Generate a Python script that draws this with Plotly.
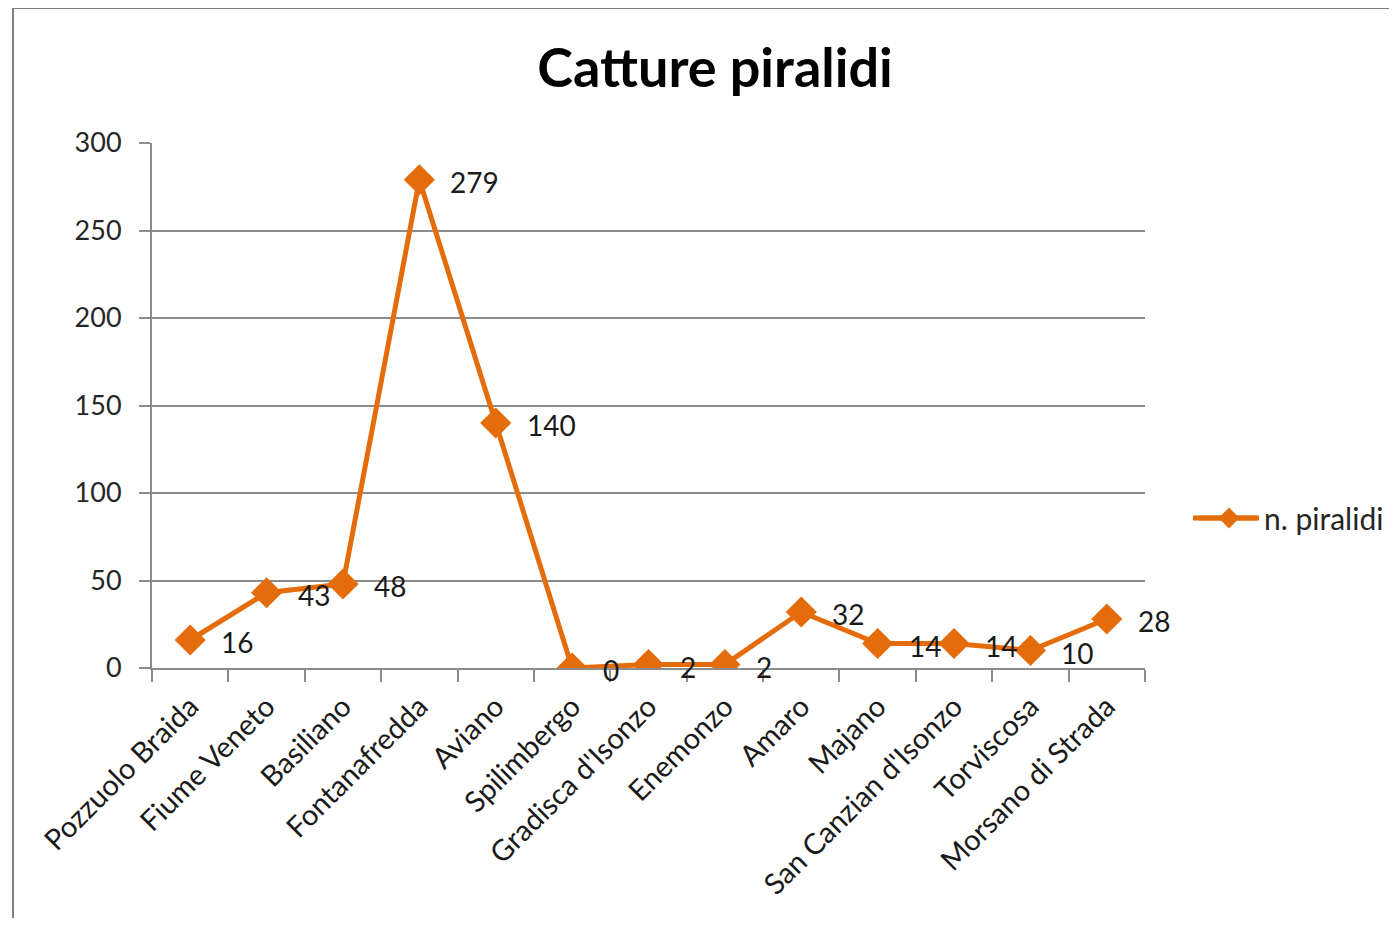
import plotly.graph_objects as go

categories = ["Pozzuolo Braida", "Fiume Veneto", "Basiliano", "Fontanafredda", "Aviano",
              "Spilimbergo", "Gradisca d'Isonzo", "Enemonzo", "Amaro", "Majano",
              "San Canzian d'Isonzo", "Torviscosa", "Morsano di Strada"]
values = [16, 43, 48, 279, 140, 0, 2, 2, 32, 14, 14, 10, 28]
series_name = "n. piralidi"
title_text = "Catture piralidi"
y_ticks = [0, 50, 100, 150, 200, 250, 300]

ORANGE = "#E46C0A"
GRID = "#8C8C8C"
FONT = "Lato, 'Open Sans', sans-serif"

# page has an 8px body margin; figure coords = page coords - 8
OFF = 8
W, H = 1397 - 2 * OFF, 926 - 2 * OFF
PL, PR, PT, PB = 152, 1145, 143, 668  # plot area in page coords
L, T = PL - OFF, PT - OFF
R = W - (PR - OFF)
B = H - (PB - OFF)
pw, ph = W - L - R, H - T - B


def px(xpage):
    return (xpage - OFF - L) / pw


def py(ypage):
    return (H - (ypage - OFF) - B) / ph


fig = go.Figure()
fig.add_trace(go.Scatter(
    x=categories, y=values, mode="lines+markers", name=series_name,
    line=dict(color=ORANGE, width=5),
    marker=dict(symbol="diamond", size=24, color=ORANGE),
))

for c, v in zip(categories, values):
    fig.add_annotation(x=c, y=v, text=str(v), showarrow=False,
                       xanchor="left", yanchor="middle", xshift=29, yshift=-2,
                       font=dict(family=FONT, size=28, color="#1a1a1a"))

fig.update_layout(
    width=W, height=H,
    margin=dict(l=L, r=R, t=T, b=B, autoexpand=False),
    paper_bgcolor="white", plot_bgcolor="white",
    title=dict(text="<b>" + title_text + "</b>", x=(715 - OFF) / W, xanchor="center",
               y=1 - (68 - OFF) / H, yanchor="middle",
               font=dict(family=FONT, size=54, color="black")),
    font=dict(family=FONT, size=27, color="#262626"),
    showlegend=True,
    legend=dict(x=px(1194), y=py(518), xanchor="left", yanchor="middle", itemwidth=60,
                bgcolor="rgba(0,0,0,0)", font=dict(size=30, color="#262626")),
    xaxis=dict(type="category", range=[-0.5, len(categories) - 0.5],
               showgrid=False, showline=True, linecolor=GRID, linewidth=2,
               ticks="outside", tickson="boundaries", ticklen=12, tickcolor=GRID, tickwidth=2,
               tickangle=-45, ticklabelstandoff=8,
               tickfont=dict(size=29, color="#1a1a1a"), zeroline=False),
    yaxis=dict(range=[0, 300], tickvals=y_ticks, showgrid=True, gridcolor=GRID, gridwidth=1.5,
               showline=True, linecolor=GRID, linewidth=2, ticks="outside", ticklen=11,
               tickcolor=GRID, tickwidth=2, zeroline=False, ticklabelstandoff=12,
               tickfont=dict(size=27, color="#262626")),
)

# longer legend line (Excel-style legend key)
fig.add_shape(type="line", xref="paper", yref="paper",
              x0=px(1193), x1=px(1257), y0=py(518), y1=py(518),
              line=dict(color=ORANGE, width=5))

# chart frame lines (left and top)
fig.add_shape(type="line", xref="paper", yref="paper",
              x0=px(13), x1=px(13), y0=py(8), y1=py(940),
              line=dict(color="#7f7f7f", width=2))
fig.add_shape(type="line", xref="paper", yref="paper",
              x0=px(13), x1=px(1400), y0=py(8), y1=py(8),
              line=dict(color="#7f7f7f", width=2))

fig.write_html("out.html")
